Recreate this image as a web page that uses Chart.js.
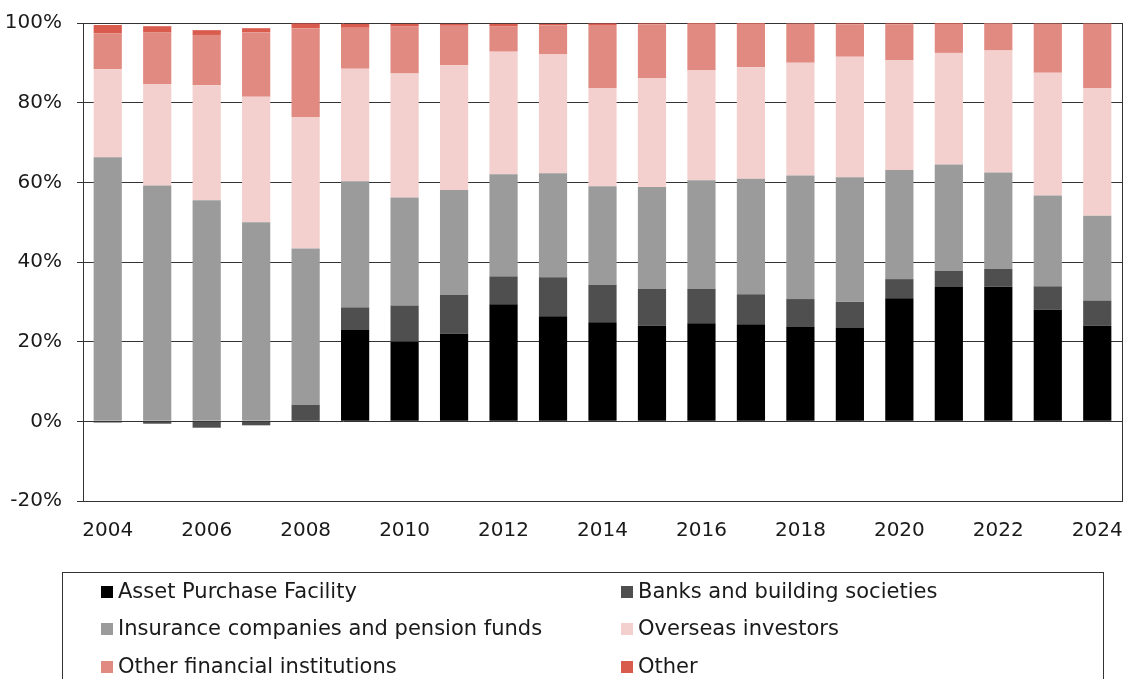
<!DOCTYPE html>
<html>
<head>
<meta charset="utf-8">
<script src="https://cdn.jsdelivr.net/npm/chart.js@4"></script>
<style>
  body { margin: 0; background: #fff; }
  #wrap { position: relative; width: 1125px; height: 679px; overflow: hidden; }
  #legend {
    position: absolute; left: 62px; top: 572px; width: 1042px; height: 140px;
    border: 1px solid #333; box-sizing: border-box;
    font-family: "DejaVu Sans", sans-serif; font-size: 21px; color: #1a1a1a;
  }
  .item { position: absolute; white-space: nowrap; line-height: 24px; height: 24px; }
  .swatch { display: inline-block; width: 12px; height: 12px; margin-right: 5px; vertical-align: 0px; }
</style>
</head>
<body>
<div id="wrap">
  <canvas id="canvas" width="1125" height="679"></canvas>
  <div id="legend"></div>
</div>
<script>
// years along the bottom
let years = ['2004','2005','2006','2007','2008','2009','2010','2011','2012','2013','2014',
             '2015','2016','2017','2018','2019','2020','2021','2022','2023','2024'];

// share of gilts held by each group, %
let assetPurchase = [0, 0, 0, 0, 0, 22.9, 20.0, 22.0, 29.4, 26.4, 24.9,
                     24.0, 24.6, 24.4, 23.8, 23.4, 30.9, 33.7, 33.8, 28.1, 24.0];
let banks = [-0.3, -0.6, -1.6, -1.0, 4.2, 5.7, 9.1, 9.7, 7.0, 9.8, 9.4,
             9.2, 8.6, 7.5, 6.9, 6.6, 4.8, 4.1, 4.5, 5.8, 6.3];
let insurance = [66.3, 59.2, 55.5, 50.0, 39.2, 31.7, 27.1, 26.4, 25.6, 26.1, 24.7,
                 25.6, 27.3, 29.0, 31.0, 31.3, 27.4, 26.7, 24.2, 22.8, 21.3];
let overseas = [22.1, 25.5, 28.9, 31.5, 33.0, 28.2, 31.1, 31.3, 30.8, 29.9, 24.7,
                27.4, 27.7, 28.0, 28.3, 30.2, 27.6, 28.0, 30.6, 30.8, 32.1];
let otherFinancial = [9.0, 12.9, 12.6, 16.2, 22.3, 10.3, 11.8, 9.9, 6.3, 7.2, 15.8,
                      13.5, 11.6, 10.9, 9.8, 8.2, 9.0, 7.3, 6.8, 12.3, 16.1];
let other = [2.1, 1.6, 1.2, 1.0, 1.2, 1.0, 0.7, 0.5, 0.7, 0.4, 0.4,
             0.2, 0.2, 0.2, 0.1, 0.2, 0.2, 0.2, 0.1, 0.1, 0.1];

// y axis ticks
let yMin = -20, yMax = 100, yStep = 20;

let font = { family: '"DejaVu Sans", sans-serif', size: 20 };

// draws the box line on the right side of the plot
let rightBorder = {
  id: 'rightBorder',
  afterDraw(chart) {
    let a = chart.chartArea, ctx = chart.ctx;
    ctx.save();
    ctx.strokeStyle = '#333';
    ctx.lineWidth = 1;
    ctx.beginPath();
    ctx.moveTo(Math.round(a.right) + 0.5, a.top);
    ctx.lineTo(Math.round(a.right) + 0.5, a.bottom);
    ctx.stroke();
    ctx.restore();
  }
};

let options = {
  type: 'bar',
  data: {
    labels: years,
    datasets: [
      { label: 'Asset Purchase Facility', data: assetPurchase, backgroundColor: '#000000' },
      { label: 'Banks and building societies', data: banks, backgroundColor: '#4f4f4f' },
      { label: 'Insurance companies and pension funds', data: insurance, backgroundColor: '#9b9b9b' },
      { label: 'Overseas investors', data: overseas, backgroundColor: '#f3d0cd' },
      { label: 'Other financial institutions', data: otherFinancial, backgroundColor: '#e08a81' },
      { label: 'Other', data: other, backgroundColor: '#d95b4e' }
    ]
  },
  options: {
    responsive: false,
    animation: false,
    layout: { padding: { top: 23, right: 3, bottom: 118, left: 0 } },
    datasets: { bar: { categoryPercentage: 1, barPercentage: 0.57 } },
    plugins: { legend: { display: false }, tooltip: { enabled: false } },
    scales: {
      x: {
        stacked: true,
        afterFit: (scale) => { scale.paddingLeft = 0; scale.paddingRight = 0; },
        grid: { display: false, drawTicks: false },
        border: { display: true, color: '#333', width: 1 },
        ticks: {
          font: font, color: '#1a1a1a', padding: 18,
          autoSkip: false, maxRotation: 0,
          callback: (v, i) => i % 2 === 0 ? years[i] : ''
        }
      },
      y: {
        stacked: true,
        min: yMin, max: yMax,
        afterFit: (scale) => { scale.width = 83; scale.paddingTop = 0; scale.paddingBottom = 0; },
        grid: { color: '#333', lineWidth: 1, drawTicks: true, tickLength: 6 },
        border: { display: true, color: '#333', width: 1 },
        ticks: {
          stepSize: yStep, font: font, color: '#1a1a1a', padding: 15,
          callback: (v) => v + '%'
        }
      }
    }
  },
  plugins: [rightBorder]
};

let chart = new Chart(document.getElementById('canvas'), options);

// legend in two columns, built from the chart's datasets
let legend = document.getElementById('legend');
chart.data.datasets.forEach((ds, i) => {
  let item = document.createElement('div');
  item.className = 'item';
  item.style.left = (i % 2 === 0 ? 38 : 558) + 'px';
  item.style.top = [6, 43, 81][Math.floor(i / 2)] + 'px';
  let sw = document.createElement('span');
  sw.className = 'swatch';
  sw.style.background = ds.backgroundColor;
  item.appendChild(sw);
  item.appendChild(document.createTextNode(ds.label));
  legend.appendChild(item);
});
</script>
</body>
</html>
